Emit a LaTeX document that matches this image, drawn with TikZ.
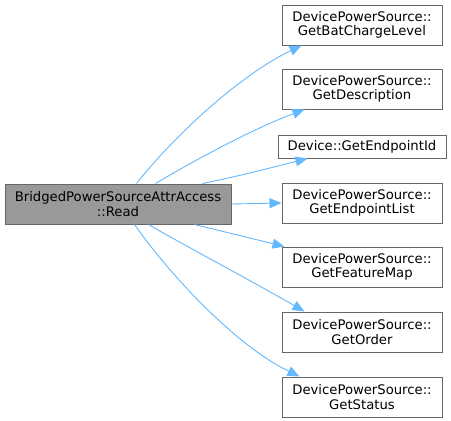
\documentclass[tikz,border=0pt]{standalone}
\usepackage{fontspec}
\setmainfont{DejaVu Sans}
\usetikzlibrary{arrows.meta,calc}
\definecolor{edgeblue}{HTML}{63B8FF}
\definecolor{boxline}{HTML}{666666}
\definecolor{mainfill}{HTML}{999999}
\tikzset{
  fbox/.style={draw=boxline, line width=1pt, fill=white, align=center, inner sep=0pt,
    minimum width=160pt, minimum height=40pt, font=\fontsize{13.2}{14.5}\selectfont},
  mainbox/.style={fbox, fill=mainfill, minimum width=226pt},
  sbox/.style={fbox, minimum width=168pt, minimum height=23pt},
  edge/.style={draw=edgeblue, line width=0.9pt, -{Triangle[length=12pt,width=10pt]}}
}
\begin{document}
\begin{tikzpicture}[x=1pt,y=-1pt]
\useasboundingbox (0,0) rectangle (451,421);
\node[mainbox] (main) at (118,204) {BridgedPowerSourceAttrAccess\\::Read};
\node[fbox] (n1) at (362,25) {DevicePowerSource::\\GetBatChargeLevel};
\node[fbox] (n2) at (362,89) {DevicePowerSource::\\GetDescription};
\node[sbox] (n3) at (362,146.5) {Device::GetEndpointId};
\node[fbox] (n4) at (362,203) {DevicePowerSource::\\GetEndpointList};
\node[fbox] (n5) at (362,267) {DevicePowerSource::\\GetFeatureMap};
\node[fbox] (n6) at (362,332) {DevicePowerSource::\\GetOrder};
\node[fbox] (n7) at (362,397) {DevicePowerSource::\\GetStatus};
\draw[edge] ($(main.north west)+(132,0)$) .. controls (175,135) and (240,75) .. ($(n1.south west)+(20,0)$);
\draw[edge] ($(main.north west)+(151,0)$) .. controls (190,163) and (250,130) .. ($(n2.south west)+(23,0)$);
\draw[edge] ($(main.north west)+(198,0)$) .. controls (235,177) and (270,168) .. ($(n3.south west)+(30,0)$);
\draw[edge] (main.east) -- (n4.west);
\draw[edge] ($(main.south west)+(190,0)$) -- ($(n5.north west)+(3,0)$);
\draw[edge] ($(main.south west)+(144,0)$) .. controls (180,243) and (250,280) .. ($(n6.north west)+(23,0)$);
\draw[edge] ($(main.south west)+(130,0)$) .. controls (170,275) and (235,345) .. ($(n7.north west)+(18,0)$);
\end{tikzpicture}
\end{document}
